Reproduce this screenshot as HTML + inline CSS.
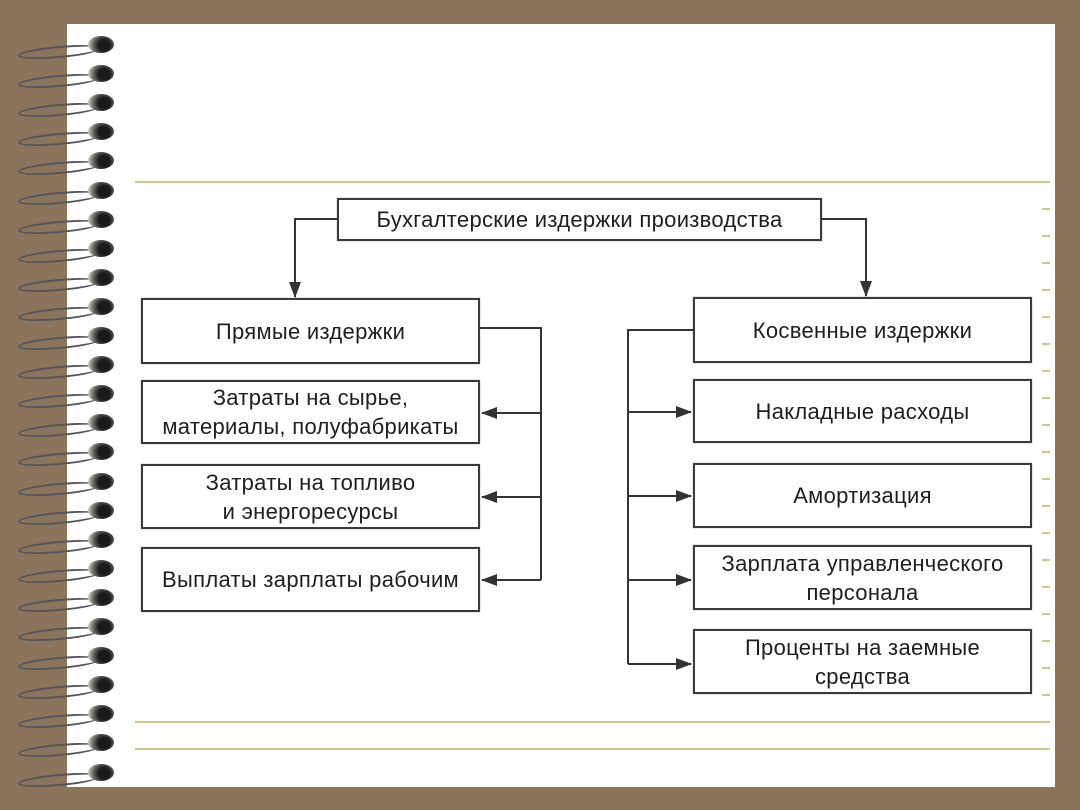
<!DOCTYPE html>
<html><head><meta charset="utf-8"><style>
body{margin:0;width:1080px;height:810px;background:#8c745c;position:relative;overflow:hidden;font-family:"Liberation Sans",sans-serif}
.page{position:absolute;left:67px;top:24px;width:988px;height:763px;background:#fff}
.hl{position:absolute;left:135px;width:915px;height:2px;background:#d4c48a}
.tk{position:absolute;left:1042px;width:8px;height:2px;background:#d4c48a}
.b{position:absolute;border:2px solid #3a3a3a;box-shadow:0 0 1px #888;box-sizing:border-box;display:flex;align-items:center;justify-content:center;text-align:center;font-size:22px;letter-spacing:0.3px;line-height:29px;color:#1e1e1e}
.ring{position:absolute;left:18px;width:82px;height:12px;border:2px solid #50545c;border-radius:50%;border-right:none;box-sizing:border-box;transform:rotate(-5deg)}
.bead{position:absolute;left:88px;width:26px;height:17px;border-radius:50%;background:radial-gradient(circle at 62% 55%,#1a1a1a 30%,#666 58%,#dcd6b8 88%,#fff 100%)}
</style></head><body>
<div class="page"></div>
<div class="hl" style="top:181px"></div>
<div class="hl" style="top:721px"></div>
<div class="hl" style="top:748px"></div>
<div id="t"></div>
<div class="b" style="left:337px;top:198px;width:485px;height:43px">Бухгалтерские издержки производства</div>
<div class="b" style="left:141px;top:298px;width:339px;height:66px">Прямые издержки</div>
<div class="b" style="left:141px;top:380px;width:339px;height:64px">Затраты на сырье,<br>материалы, полуфабрикаты</div>
<div class="b" style="left:141px;top:464px;width:339px;height:65px">Затраты на топливо<br>и энергоресурсы</div>
<div class="b" style="left:141px;top:547px;width:339px;height:65px">Выплаты зарплаты рабочим</div>
<div class="b" style="left:693px;top:297px;width:339px;height:66px">Косвенные издержки</div>
<div class="b" style="left:693px;top:379px;width:339px;height:64px">Накладные расходы</div>
<div class="b" style="left:693px;top:463px;width:339px;height:65px">Амортизация</div>
<div class="b" style="left:693px;top:545px;width:339px;height:65px">Зарплата управленческого<br>персонала</div>
<div class="b" style="left:693px;top:629px;width:339px;height:65px">Проценты на заемные<br>средства</div>
<svg width="1080" height="810" style="position:absolute;left:0;top:0" fill="none" stroke="#333" stroke-width="2">
<defs><marker id="a2" markerWidth="16" markerHeight="12" refX="15" refY="6" orient="auto" markerUnits="userSpaceOnUse"><path d="M0,0L16,6L0,12z" fill="#333" stroke="none"/></marker></defs>
<path d="M337,219H295V297" marker-end="url(#a2)"/>
<path d="M822,219H866V296" marker-end="url(#a2)"/>
<path d="M480,328H541V580"/>
<path d="M541,413H482" marker-end="url(#a2)"/>
<path d="M541,497H482" marker-end="url(#a2)"/>
<path d="M541,580H482" marker-end="url(#a2)"/>
<path d="M693,330H628V664"/>
<path d="M628,412H691" marker-end="url(#a2)"/>
<path d="M628,496H691" marker-end="url(#a2)"/>
<path d="M628,580H691" marker-end="url(#a2)"/>
<path d="M628,664H691" marker-end="url(#a2)"/>
</svg>
<script>
var h='';for(var i=0;i<26;i++){var y=42+i*29.1;h+='<div class="ring" style="top:'+(y+4)+'px"></div><div class="bead" style="top:'+(y-6)+'px"></div>';}
for(var j=0;j<19;j++){h+='<div class="tk" style="top:'+(208+j*27)+'px"></div>';}
document.getElementById('t').innerHTML=h;
</script>
</body></html>
